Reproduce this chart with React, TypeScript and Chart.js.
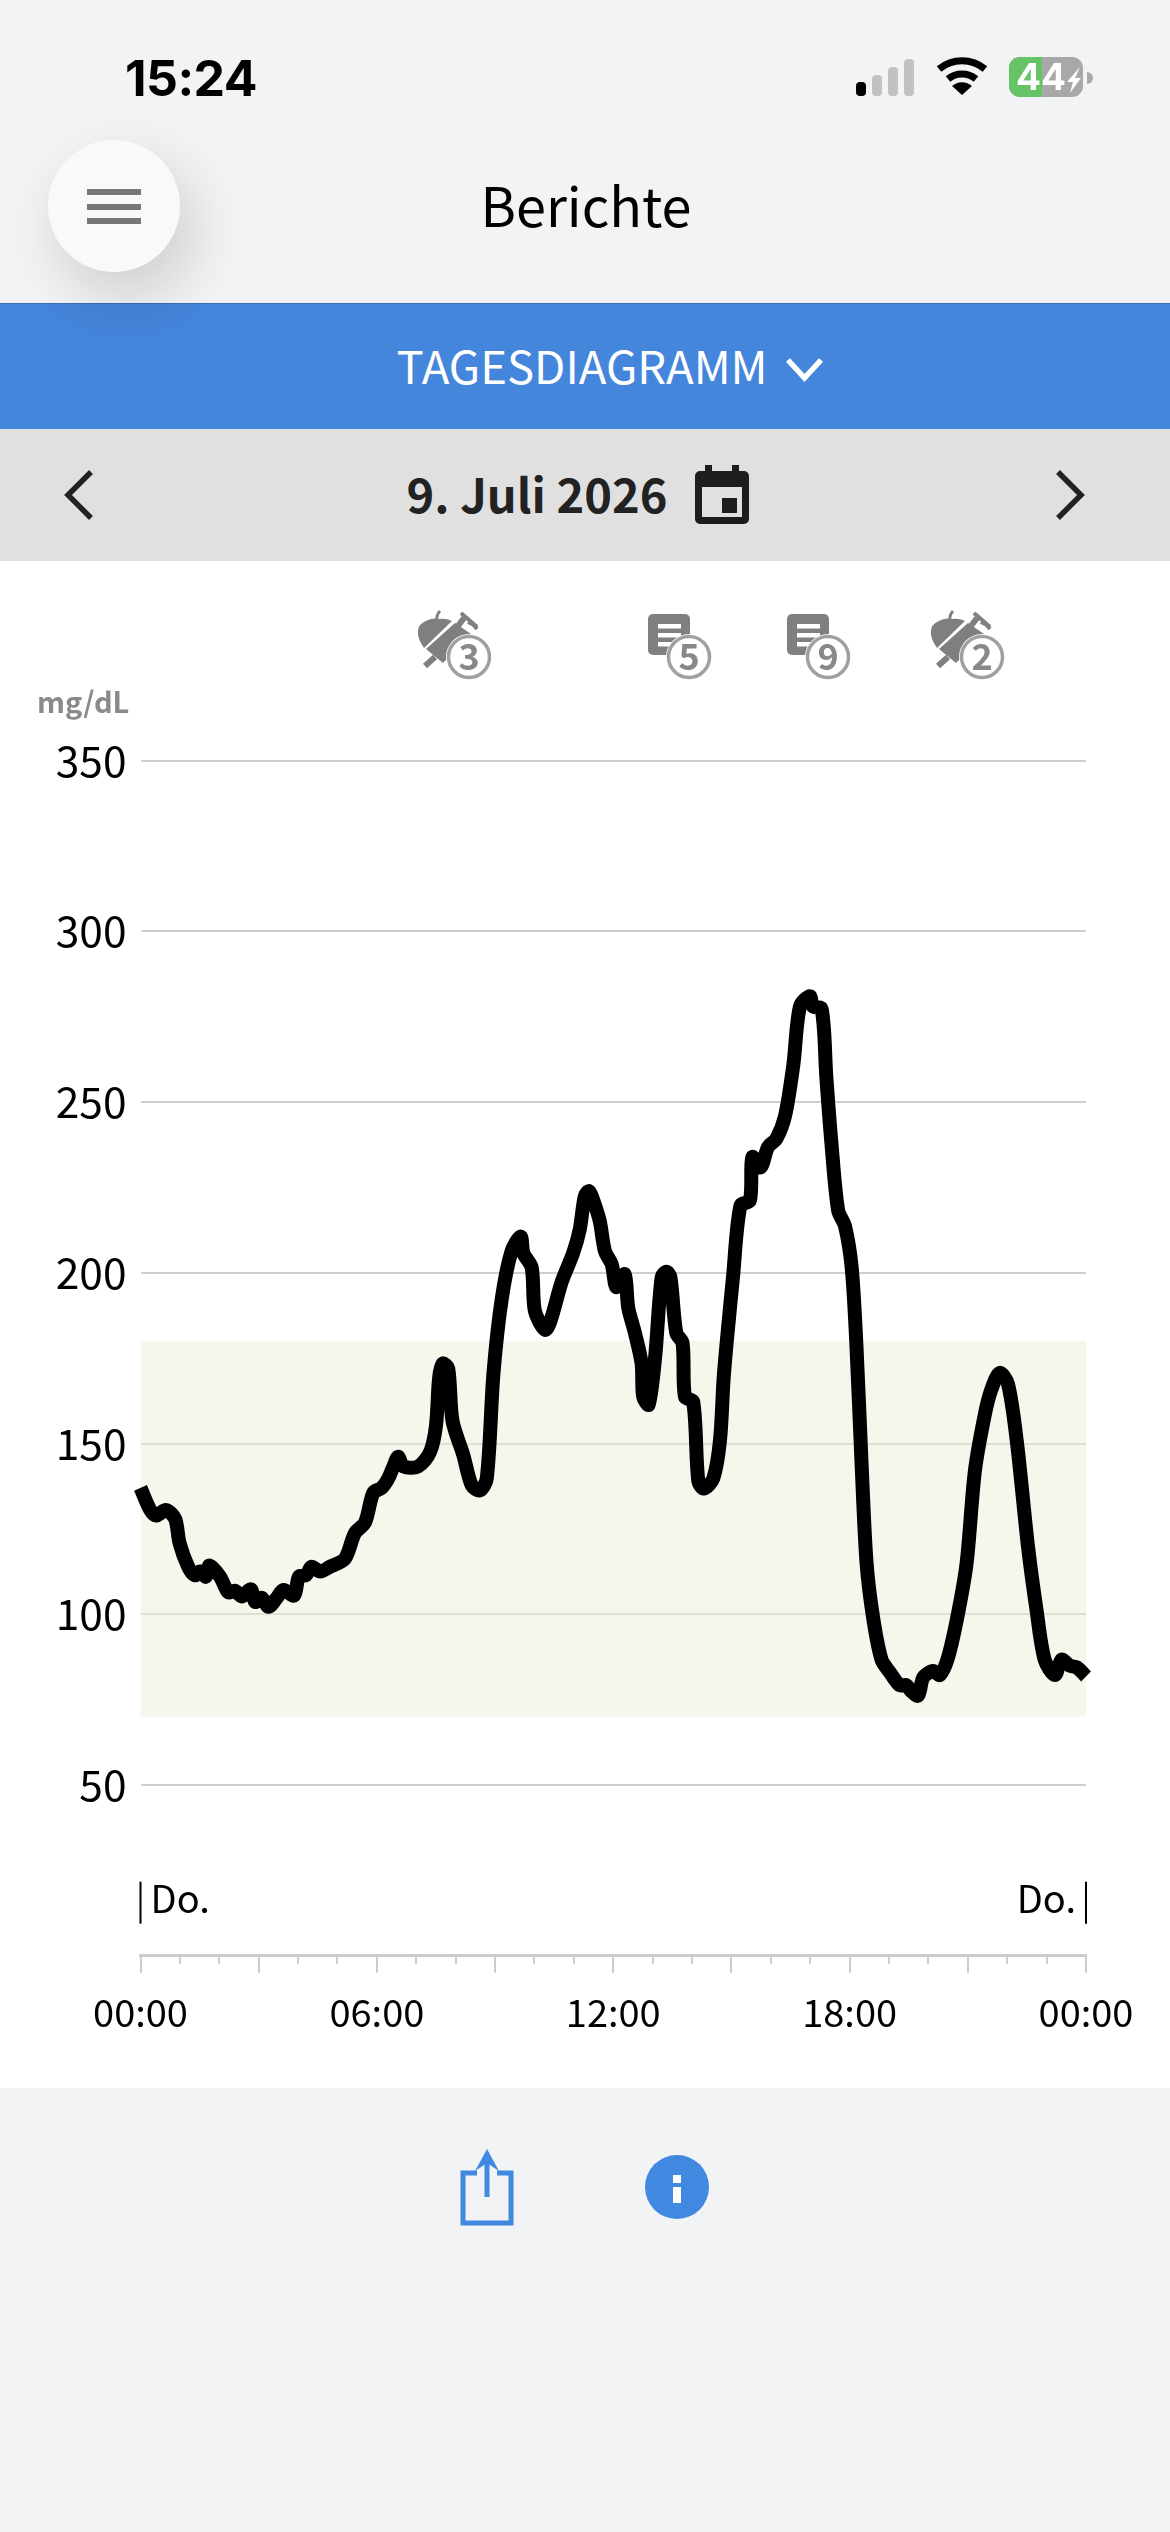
import React, { useEffect, useRef } from "react";
import { Chart, registerables } from "chart.js";

Chart.register(...registerables);

const hours = [0, 0.24, 0.39, 0.65, 0.88, 0.99, 1.21, 1.38, 1.51, 1.66, 1.75, 2.02, 2.23, 2.4, 2.57, 2.8, 2.91, 3.08, 3.25, 3.46, 3.63, 3.9, 4.02, 4.2, 4.34, 4.56, 4.81, 5.19, 5.44, 5.7, 5.91, 6.12, 6.29, 6.42, 6.54, 6.67, 7.05, 7.35, 7.5, 7.58, 7.67, 7.81, 7.92, 8.19, 8.41, 8.62, 8.79, 8.96, 9.17, 9.42, 9.65, 9.72, 9.93, 10.01, 10.27, 10.41, 10.69, 10.98, 11.15, 11.28, 11.39, 11.53, 11.66, 11.79, 11.96, 12.08, 12.29, 12.38, 12.55, 12.72, 12.76, 12.9, 13.06, 13.23, 13.35, 13.45, 13.6, 13.76, 13.82, 14.03, 14.16, 14.3, 14.54, 14.71, 14.81, 15.04, 15.23, 15.47, 15.53, 15.74, 15.93, 16.14, 16.36, 16.57, 16.74, 16.99, 17.07, 17.29, 17.41, 17.54, 17.71, 17.88, 18.05, 18.17, 18.3, 18.43, 18.6, 18.81, 19.02, 19.27, 19.44, 19.57, 19.74, 19.87, 20.12, 20.29, 20.5, 20.75, 20.97, 21.18, 21.43, 21.6, 21.81, 22.02, 22.24, 22.53, 22.74, 22.95, 23.21, 23.38, 23.59, 23.76, 24];
const glucose = [137, 130.7, 128.9, 130.5, 127.9, 120.9, 113.9, 111.4, 112.5, 111, 114.3, 111, 106.4, 106.9, 105.2, 107.3, 103.6, 104.8, 102.2, 104.8, 107.1, 105.5, 111, 111.4, 113.9, 112.5, 113.9, 116.3, 123.7, 126.9, 135.6, 137, 139.8, 143.3, 146.1, 143.3, 143.3, 147.5, 155.2, 169.2, 173.4, 172, 156.6, 146.8, 137.7, 136.3, 139.8, 170.6, 192.4, 206.4, 210.6, 205.7, 201.5, 188.9, 183.3, 186, 197.3, 205.7, 212.7, 222.5, 223.9, 220, 215, 206.3, 202.5, 195.8, 199.6, 189.8, 182.4, 173.4, 163.7, 161.4, 174.9, 198.8, 200.3, 198.8, 182.4, 179.4, 163.7, 162.2, 139, 136.8, 139.8, 151, 170.4, 198.8, 219.7, 221.2, 233.9, 230.9, 236.9, 239.2, 245.9, 260.8, 278, 281, 278, 277.3, 257.1, 237.7, 218.2, 213.8, 201.8, 179.4, 145, 115, 98.7, 86.7, 83, 79.2, 79.2, 77.4, 76.2, 81.5, 83.4, 82.2, 87.4, 100.1, 115, 142, 158.4, 165.9, 170.7, 167.4, 151, 119.6, 101.6, 86.7, 82.2, 86.7, 84.9, 84.5, 81.8];
const rangeLow = 70;
const rangeHigh = 180;
const minorTickHours = [1, 2, 4, 5, 7, 8, 10, 11, 13, 14, 16, 17, 19, 20, 22, 23];
const labelledHours = [0, 6, 12, 18, 24];
const dayLabel = "Do.";

const FONT = "'Noto Sans CJK JP'";

const overlays = {
  id: "overlays",
  beforeDatasetsDraw(chart: any) {
    const { ctx, chartArea, scales } = chart;
    const y = scales.y;
    ctx.save();
    ctx.fillStyle = "rgba(233,239,217,0.5)";
    ctx.fillRect(chartArea.left, y.getPixelForValue(rangeHigh), chartArea.right - chartArea.left, y.getPixelForValue(rangeLow) - y.getPixelForValue(rangeHigh));
    ctx.restore();
  },
  afterDraw(chart: any) {
    const { ctx, chartArea, scales } = chart;
    const x = scales.x;
    ctx.save();
    ctx.strokeStyle = "#cccccc";
    ctx.lineWidth = 2;
    minorTickHours.forEach((h) => {
      const px = Math.round(x.getPixelForValue(h));
      ctx.beginPath();
      ctx.moveTo(px, chartArea.bottom);
      ctx.lineTo(px, chartArea.bottom + 8);
      ctx.stroke();
    });
    ctx.strokeStyle = "#000";
    ctx.lineWidth = 2;
    ctx.fillStyle = "#000";
    ctx.font = `38px ${FONT}`;
    ctx.textBaseline = "middle";
    const l = x.getPixelForValue(0);
    const r = x.getPixelForValue(24);
    const top = chartArea.bottom - 74;
    const bot = chartArea.bottom - 32;
    [l, r].forEach((px: number) => {
      ctx.beginPath();
      ctx.moveTo(px, top);
      ctx.lineTo(px, bot);
      ctx.stroke();
    });
    ctx.textAlign = "left";
    ctx.fillText(dayLabel, l + 10, chartArea.bottom - 57);
    ctx.textAlign = "right";
    ctx.fillText(dayLabel, r - 10, chartArea.bottom - 57);
    ctx.restore();
  },
};

function abs(left: number, top: number, extra: React.CSSProperties = {}): React.CSSProperties {
  return { position: "absolute", left, top, ...extra };
}

function Txt({ cx, cy, size, weight = 400, color = "#000", children, font = FONT, spacing = 0 }: any) {
  return (
    <div style={{ position: "absolute", left: cx - 400, width: 800, top: cy - size, height: size * 2, lineHeight: `${size * 2}px`, textAlign: "center", fontFamily: font, fontSize: size, fontWeight: weight, color, letterSpacing: spacing, whiteSpace: "nowrap" }}>
      {children}
    </div>
  );
}

function Badge({ cx, cy, n }: any) {
  return (
    <g>
      <circle cx={cx} cy={cy} r={23} fill="#fff" />
      <circle cx={cx} cy={cy} r={20.5} fill="#fff" stroke="#a0a0a0" strokeWidth={3.5} />
      <text x={cx} y={cy + 12.5} textAnchor="middle" fontFamily={FONT} fontWeight={700} fontSize={36} fill="#888">{n}</text>
    </g>
  );
}

function NoteIcon({ x, cx, n }: any) {
  return (
    <g>
      <rect x={x} y={614} width={42} height={41} rx={5} fill="#7f7f7f" />
      <rect x={x + 10} y={624} width={23} height={4.5} fill="#fff" />
      <rect x={x + 10} y={633} width={23} height={4.5} fill="#fff" />
      <rect x={x + 10} y={642} width={23} height={4.5} fill="#fff" />
      <Badge cx={cx} cy={657} n={n} />
    </g>
  );
}

function MealIcon({ x, cx, n }: any) {
  const d = x - 421;
  return (
    <g transform={`translate(${d} 0)`}>
      <path d="M424 622 q8 -5 15 -3 q7 -1 13 2 l-28 27 q-7 -10 -6 -17 q0 -6 6 -9 z" fill="#7f7f7f" />
      <path d="M437 621 q-1 -6 3 -10" fill="none" stroke="#7f7f7f" strokeWidth={3} />
      <path d="M426 649 L455 623 L471 634 L443 663 Z" fill="#7f7f7f" stroke="#fff" strokeWidth={3} paintOrder="stroke" />
      <path d="M435 657 L425 666" stroke="#7f7f7f" strokeWidth={6} />
      <path d="M458 626 L464 618" stroke="#7f7f7f" strokeWidth={6} />
      <path d="M461 613 L477 627" stroke="#7f7f7f" strokeWidth={4} />
      <path d="M468 622 L474 625 M470 621 L477 629" stroke="#7f7f7f" strokeWidth={4} />
      <g transform={`translate(${-d} 0)`}>
        <Badge cx={cx} cy={657} n={n} />
      </g>
    </g>
  );
}

export default function App() {
  const ref = useRef<HTMLCanvasElement>(null);
  useEffect(() => {
    const chart = new Chart(ref.current!, {
      type: "line",
      data: {
        datasets: [
          {
            data: hours.map((h, i) => ({ x: h, y: glucose[i] })),
            borderColor: "#000",
            borderWidth: 14,
            pointRadius: 0,
            tension: 0.3,
            borderCapStyle: "butt",
            borderJoinStyle: "round",
            clip: false as any,
          },
        ],
      },
      options: {
        animation: false,
        responsive: false,
        devicePixelRatio: 1,
        layout: { padding: { top: 199.6, right: 84, bottom: 0, left: 0 } },
        plugins: { legend: { display: false }, tooltip: { enabled: false } },
        scales: {
          x: {
            type: "linear",
            min: 0,
            max: 24,
            afterFit(s: any) { s.height = 132.3; },
            border: { display: true, color: "#cccccc", width: 3 },
            grid: { drawOnChartArea: false, drawTicks: true, tickLength: 17, color: "#cccccc", lineWidth: 2 },
            ticks: {
              stepSize: 3,
              autoSkip: false,
              maxRotation: 0,
              padding: 17,
              color: "#000",
              font: { family: FONT, size: 38 },
              callback: (v: any) => (labelledHours.includes(v) ? `${String(v % 24).padStart(2, "0")}:00` : ""),
            },
          },
          y: {
            min: 0,
            max: 350,
            afterFit(s: any) { s.width = 140.5; },
            border: { display: false },
            grid: { drawTicks: false, color: "#cfcfcf", lineWidth: 2 },
            ticks: {
              stepSize: 50,
              padding: 14,
              color: "#000",
              font: { family: FONT, size: 42.5 },
              callback: (v: any) => (v === 0 ? "" : String(v)),
            },
          },
        },
      },
      plugins: [overlays],
    } as any);
    return () => chart.destroy();
  }, []);

  return (
    <div style={{ position: "relative", width: 1170, height: 2532, background: "#f1f3f5", overflow: "hidden" }}>
      <style>{"body{margin:0}"}</style>
      <div style={abs(0, 303, { width: 1170, height: 126, background: "#4486dc", boxShadow: "inset 0 1px 0 #3a6fb5" })} />
      <div style={abs(0, 429, { width: 1170, height: 132, background: "#e0e0e0" })} />
      <div style={abs(0, 561, { width: 1170, height: 1527, background: "#fff" })} />
      <div style={abs(48, 140, { width: 132, height: 132, borderRadius: 66, background: "#f8f9fb", boxShadow: "12px 24px 60px rgba(0,0,0,0.16)" })} />
      <canvas ref={ref} width={1170} height={1527} style={abs(0, 561, { width: 1170, height: 1527 })} />
      <Txt cx={191} cy={78} size={50} weight={700} font="Inter" spacing={-0.5}>15:24</Txt>
      <Txt cx={586} cy={204} size={54}>Berichte</Txt>
      <Txt cx={582} cy={364} size={45.5} color="#fff">TAGESDIAGRAMM</Txt>
      <Txt cx={537} cy={493} size={47} weight={700} color="#222">9. Juli 2026</Txt>
      <div style={abs(37, 678, { fontFamily: FONT, fontSize: 29, fontWeight: 700, color: "#8a8a8a", lineHeight: "44px" })}>mg/dL</div>
      <svg width={1170} height={2532} style={abs(0, 0, { pointerEvents: "none" })}>
        <rect x={856} y={82} width={10} height={14} rx={4} fill="#000" />
        <rect x={872} y={75} width={10} height={21} rx={4} fill="#c2c2c2" />
        <rect x={888} y={67} width={10} height={29} rx={4} fill="#c2c2c2" />
        <rect x={904} y={59} width={10} height={37} rx={4} fill="#c2c2c2" />
        <path d="M962 95 l-10 -9 a15 15 0 0 1 20 0 z" fill="#000" />
        <path d="M948 79 a22 22 0 0 1 28 0 M939 69 a36 36 0 0 1 46 0" fill="none" stroke="#000" strokeWidth={7} />
        <rect x={1009} y={57} width={74} height={40} rx={11} fill="#a8a8a8" />
        <path d="M1042 57 H1020 a11 11 0 0 0 -11 11 v18 a11 11 0 0 0 11 11 H1042 z" fill="#66c466" />
        <path d="M1087 72 a6 6 0 0 1 0 12 z" fill="#aaa" />
        <text x={1016} y={90} fontFamily="Inter" fontWeight={700} fontSize={37} fill="#fff">44</text>
        <path d="M1080 67 l-13 15 h6 l-3 11 l11 -15 h-6 z" fill="#fff" />
        <rect x={87} y={189} width={54} height={6} fill="#777" />
        <rect x={87} y={204} width={54} height={6} fill="#777" />
        <rect x={87} y={218} width={54} height={6} fill="#777" />
        <path d="M788 360 L804.5 378 L821 360" fill="none" stroke="#fff" strokeWidth={5.5} />
        <path d="M91 472 L68 495 L91 518" fill="none" stroke="#222" strokeWidth={5.5} />
        <path d="M1058 472 L1081 495 L1058 518" fill="none" stroke="#222" strokeWidth={5.5} />
        <path d="M695 476 a5 5 0 0 1 5 -5 h5 v-6 h7 v6 h20 v-6 h7 v6 h5 a5 5 0 0 1 5 5 v43 a5 5 0 0 1 -5 5 h-44 a5 5 0 0 1 -5 -5 z" fill="#1d1d1d" />
        <rect x={702} y={487} width={40} height={30} fill="#e0e0e0" />
        <rect x={722} y={498} width={15} height={15} fill="#1d1d1d" />
        <MealIcon x={421} cx={469} n={3} />
        <NoteIcon x={648} cx={689} n={5} />
        <NoteIcon x={787} cx={828} n={9} />
        <MealIcon x={934} cx={982} n={2} />
        <path d="M477 2173 h-14 v50 h48 v-50 h-14" fill="none" stroke="#4188e0" strokeWidth={5} />
        <path d="M487 2197 V2155" stroke="#4188e0" strokeWidth={5} />
        <path d="M487 2149 l12 22 l-12 -8 l-12 8 z" fill="#4188e0" />
        <circle cx={677} cy={2187} r={32} fill="#4188e0" />
        <rect x={673} y={2175} width={8} height={8} fill="#fff" />
        <rect x={673} y={2187} width={8} height={16} fill="#fff" />
      </svg>
    </div>
  );
}
